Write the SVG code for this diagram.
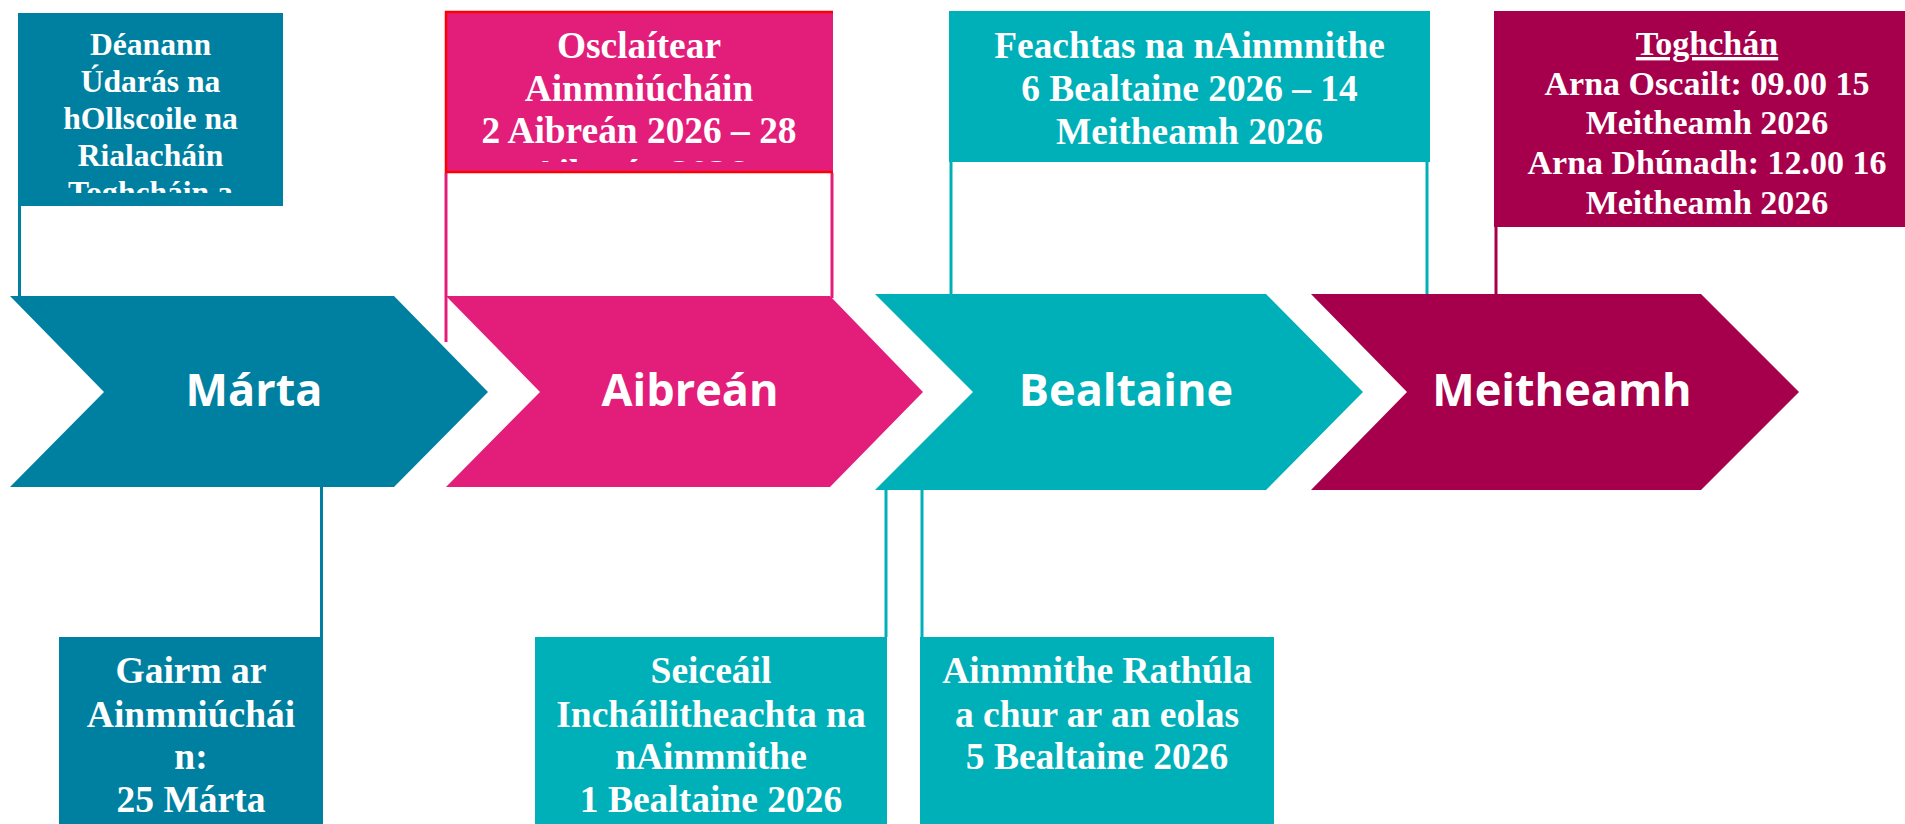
<svg xmlns="http://www.w3.org/2000/svg" width="1905" height="824" viewBox="0 0 1905 824">
<style>
.bt{font-family:"Liberation Serif","Times New Roman",serif;font-weight:bold;fill:#fff;text-anchor:middle}
.ct{font-family:"Open Sans","Noto Sans",sans-serif;font-weight:700;fill:#fff;text-anchor:middle;font-size:45px}
.c1{fill:#0080A1}.c2{fill:#E31D7A}.c3{fill:#00B0B9}.c4{fill:#A6004C}
.l{fill:none;stroke-width:3}
</style>
<defs>
<clipPath id="cp1"><rect x="18" y="13" width="265" height="180"/></clipPath>
<clipPath id="cp2"><rect x="445" y="12" width="388" height="150"/></clipPath>
<clipPath id="cp4"><rect x="1494" y="11" width="411" height="216"/></clipPath>
</defs>
<rect width="1905" height="824" fill="#fff"/>
<g id="connectors">
<line class="l" stroke="#0080A1" x1="19.5" y1="206" x2="19.5" y2="296"/>
<line class="l" stroke="#E31D7A" x1="446" y1="173" x2="446" y2="342"/>
<line class="l" stroke="#E31D7A" x1="832" y1="173" x2="832" y2="298"/>
<line class="l" stroke="#00B0B9" x1="951" y1="162" x2="951" y2="294"/>
<line class="l" stroke="#00B0B9" x1="1427" y1="162" x2="1427" y2="294"/>
<line class="l" stroke="#A6004C" x1="1496" y1="227" x2="1496" y2="294"/>
<line class="l" stroke="#0080A1" x1="321.5" y1="487" x2="321.5" y2="637"/>
<line class="l" stroke="#00B0B9" x1="886" y1="490" x2="886" y2="637"/>
<line class="l" stroke="#00B0B9" x1="922" y1="490" x2="922" y2="637"/>
</g>
<g id="chev-marta">
<polygon class="c1" points="10,296 394,296 488,392 394,487 10,487 104,392"/>
<text class="ct" x="254" y="406">Márta</text>
</g>
<g id="chev-aibrean">
<polygon class="c2" points="446,296 830,296 923,392 830,487 446,487 540,392"/>
<text class="ct" x="690" y="406">Aibreán</text>
</g>
<g id="chev-bealtaine">
<polygon class="c3" points="875,294 1266,294 1363,392 1266,490 875,490 973,392"/>
<text class="ct" x="1126" y="406">Bealtaine</text>
</g>
<g id="chev-meitheamh">
<polygon class="c4" points="1311,294 1701,294 1799,392 1701,490 1311,490 1407,392"/>
<text class="ct" x="1562" y="406">Meitheamh</text>
</g>
<g id="box-deanann">
<rect class="c1" x="18" y="13" width="265" height="193"/>
<text class="bt" font-size="31.6" clip-path="url(#cp1)"><tspan x="150.5" y="55">Déanann</tspan><tspan x="150.5" y="92">Údarás na</tspan><tspan x="150.5" y="128.5">hOllscoile na</tspan><tspan x="150.5" y="165.5">Rialacháin</tspan><tspan x="150.5" y="202.5">Toghcháin a</tspan></text>
</g>
<g id="box-osclaitear">
<rect class="c2" x="445" y="12" width="388" height="161"/>
<path d="M833,12 H446 V172 H833" fill="none" stroke="#FF0000" stroke-width="2.5"/>
<text class="bt" font-size="37.4" clip-path="url(#cp2)"><tspan x="639" y="58">Osclaítear</tspan><tspan x="639" y="100.5">Ainmniúcháin</tspan><tspan x="639" y="143">2 Aibreán 2026 – 28</tspan><tspan x="639" y="185.5">Aibreán 2026</tspan></text>
</g>
<g id="box-feachtas">
<rect class="c3" x="949" y="11" width="481" height="151"/>
<text class="bt" font-size="37.4"><tspan x="1189.5" y="58">Feachtas na nAinmnithe</tspan><tspan x="1189.5" y="100.5">6 Bealtaine 2026 – 14</tspan><tspan x="1189.5" y="143.5">Meitheamh 2026</tspan></text>
</g>
<g id="box-toghchan">
<rect class="c4" x="1494" y="11" width="411" height="216"/>
<text class="bt" font-size="34" clip-path="url(#cp4)"><tspan x="1707" y="55" text-decoration="underline">Toghchán</tspan><tspan x="1707" y="94.5">Arna Oscailt: 09.00 15</tspan><tspan x="1707" y="134.3">Meitheamh 2026</tspan><tspan x="1707" y="174">Arna Dhúnadh: 12.00 16</tspan><tspan x="1707" y="213.5">Meitheamh 2026</tspan></text>
</g>
<g id="box-gairm">
<rect class="c1" x="59" y="637" width="264" height="200"/>
<text class="bt" font-size="37.5"><tspan x="191" y="683">Gairm ar</tspan><tspan x="191" y="726.5">Ainmniúchái</tspan><tspan x="191" y="768.5">n:</tspan><tspan x="191" y="812">25 Márta</tspan></text>
</g>
<g id="box-seiceail">
<rect class="c3" x="535" y="637" width="352" height="200"/>
<text class="bt" font-size="37.5"><tspan x="711" y="683">Seiceáil</tspan><tspan x="711" y="726.5">Incháilitheachta na</tspan><tspan x="711" y="768.5">nAinmnithe</tspan><tspan x="711" y="812">1 Bealtaine 2026</tspan></text>
</g>
<g id="box-ainmnithe">
<rect class="c3" x="920" y="637" width="354" height="200"/>
<text class="bt" font-size="37.5"><tspan x="1097" y="683">Ainmnithe Rathúla</tspan><tspan x="1097" y="726.5">a chur ar an eolas</tspan><tspan x="1097" y="768.5">5 Bealtaine 2026</tspan></text>
</g>
</svg>
